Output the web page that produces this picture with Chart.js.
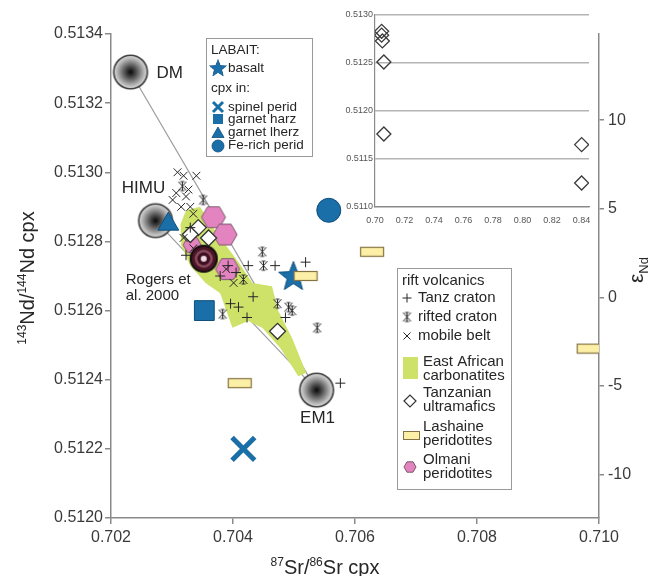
<!DOCTYPE html>
<html>
<head>
<meta charset="utf-8">
<script src="https://cdn.jsdelivr.net/npm/chart.js@4.4.1/dist/chart.umd.min.js"></script>
<style>
  html, body { margin: 0; padding: 0; background: #fff; }
  #wrap { position: relative; width: 652px; height: 576px; }
  #main { position: absolute; left: 0; top: 0; }
  #inset { position: absolute; left: 330px; top: 0; }
</style>
</head>
<body>
<div id="wrap">
  <canvas id="main" width="652" height="576"></canvas>
  <canvas id="inset" width="270" height="225"></canvas>
</div>
<script>
// ---- data -------------------------------------------------------------
const CHUR_ND = 0.512638;

// mantle end-members
const endMembers   = ['DM', 'HIMU', 'EM1'];
const endMemberSr  = [0.70232, 0.70273, 0.70537];
const endMemberNd  = [0.51329, 0.51286, 0.51237];

// East African carbonatite field outline
const carbonatiteSr = [0.70323, 0.70346, 0.70371, 0.70409, 0.70432, 0.70464, 0.70474, 0.70497, 0.70520, 0.70507,
                       0.70478, 0.70448, 0.70425, 0.70399, 0.70389, 0.70379, 0.70355, 0.70330, 0.70315, 0.70314];
const carbonatiteNd = [0.51289, 0.51290, 0.51283, 0.51274, 0.51268, 0.51267, 0.51260, 0.51252, 0.51242, 0.51241,
                       0.51249, 0.51255, 0.51257, 0.51255, 0.51260, 0.51265, 0.51268, 0.51273, 0.51279, 0.51285];

// rift volcanics
const tanzCratonSr   = [0.70330, 0.70323, 0.70425, 0.70469, 0.70519, 0.70379, 0.70433, 0.70396, 0.70409, 0.70423, 0.70486, 0.70576, 0.70392, 0.70405];
const tanzCratonNd   = [0.51284, 0.51276, 0.51273, 0.51273, 0.51274, 0.51270, 0.51264, 0.51262, 0.51261, 0.51258, 0.51258, 0.51239, 0.51273, 0.51271];
const riftedCratonSr = [0.70351, 0.70317, 0.70448, 0.70450, 0.70417, 0.70383, 0.70473, 0.70491, 0.70497, 0.70538];
const riftedCratonNd = [0.51292, 0.51296, 0.51277, 0.51273, 0.51269, 0.51259, 0.51262, 0.51261, 0.51260, 0.51255];
const mobileBeltSr   = [0.70309, 0.70319, 0.70340, 0.70327, 0.70307, 0.70301, 0.70323, 0.70330, 0.70315, 0.70335, 0.70319, 0.70335, 0.70389, 0.70401];
const mobileBeltNd   = [0.51300, 0.51299, 0.51299, 0.51295, 0.51294, 0.51292, 0.51293, 0.51290, 0.51290, 0.51288, 0.51281, 0.51278, 0.51272, 0.51268];

// xenolith suites
const olmaniSr        = [0.70368, 0.70387, 0.70391, 0.70333];
const olmaniNd        = [0.51287, 0.51282, 0.51272, 0.51279];
const ultramaficSr    = [0.70343, 0.70360, 0.70330, 0.70473];
const ultramaficNd    = [0.51284, 0.51281, 0.51282, 0.51254];
const lashaineSr      = [0.70519, 0.70628, 0.70411, 0.70983];
const lashaineNd      = [0.51270, 0.51277, 0.51239, 0.51249];
const rogersSr        = [0.70352];
const rogersNd        = [0.51275];

// Labait samples
const basaltSr      = [0.70499]; const basaltNd      = [0.51270];
const spinelSr      = [0.70417]; const spinelNd      = [0.51220];
const garnetHarzSr  = [0.70353]; const garnetHarzNd  = [0.51260];
const garnetLherzSr = [0.70294]; const garnetLherzNd = [0.51285];
const feRichSr      = [0.70557]; const feRichNd      = [0.51289];

// inset: full Sr range of Tanzanian ultramafics
const insetSr = [0.7045, 0.7045, 0.7050, 0.7060, 0.7060, 0.8400, 0.8400];
const insetNd = [0.51283, 0.51279, 0.51273, 0.51251, 0.51176, 0.51165, 0.51125];

// axis ranges and ticks
const srRange = [0.702, 0.710];   const srStep = 0.002;
const ndRange = [0.5120, 0.5134]; const ndStep = 0.0002;
const epsStep = 5;
const insetSrRange = [0.70, 0.845]; const insetSrStep = 0.02;
const insetNdRange = [0.5110, 0.5130]; const insetNdStep = 0.0005;

// ---- styling helpers --------------------------------------------------
const FONT = '"Liberation Sans", Arial, sans-serif';
const INK = '#262626';
const AXIS = '#8a8a8a';
const BLUE = '#1b6fa8', BLUE_EDGE = '#0e4d7b';
const GREEN = 'rgb(206,226,106)';
const PINK = '#e384c0';
const toEps = nd => (nd / CHUR_ND - 1) * 1e4;
const pts = (xs, ys) => xs.map((x, i) => ({ x, y: ys[i] }));

Chart.defaults.font.family = FONT;

function sprite(w, h, paint) {
  const c = document.createElement('canvas');
  c.width = w; c.height = h;
  paint(c.getContext('2d'), w / 2, h / 2);
  return c;
}
function starPath(g, cx, cy, ro, ri) {
  g.beginPath();
  for (let i = 0; i < 10; i++) {
    const r = i % 2 ? ri : ro, a = -Math.PI / 2 + i * Math.PI / 5;
    g.lineTo(cx + r * Math.cos(a), cy + r * Math.sin(a));
  }
  g.closePath();
}
function hexPath(g, cx, cy, r) {
  g.beginPath();
  for (let i = 0; i < 6; i++) {
    const a = i * Math.PI / 3;
    g.lineTo(cx + r * Math.cos(a), cy + r * Math.sin(a));
  }
  g.closePath();
}

const sphereImg = sprite(38, 38, (g, cx, cy) => {
  const grad = g.createRadialGradient(cx, cy, 0, cx, cy, 17);
  grad.addColorStop(0, '#080808');
  grad.addColorStop(0.3, '#474747');
  grad.addColorStop(0.7, '#a3a3a3');
  grad.addColorStop(1, '#e4e4e4');
  g.beginPath(); g.arc(cx, cy, 16.8, 0, Math.PI * 2);
  g.fillStyle = grad; g.fill();
  g.lineWidth = 1.6; g.strokeStyle = '#3a3a3a'; g.stroke();
});
const starImg = sprite(34, 34, (g, cx, cy) => {
  starPath(g, cx, cy + 1, 15.5, 6.6);
  g.fillStyle = BLUE; g.fill();
  g.lineWidth = 1; g.strokeStyle = BLUE_EDGE; g.stroke();
});
const hexImg = sprite(28, 28, (g, cx, cy) => {
  hexPath(g, cx, cy, 12);
  g.fillStyle = PINK; g.fill();
  g.lineWidth = 1; g.strokeStyle = '#7a5a6c'; g.stroke();
});
const hexSmallImg = sprite(22, 22, (g, cx, cy) => {
  hexPath(g, cx, cy, 9);
  g.fillStyle = PINK; g.fill();
  g.lineWidth = 1; g.strokeStyle = '#7a5a6c'; g.stroke();
});
const rogersImg = sprite(30, 30, (g, cx, cy) => {
  const disc = (r, c) => { g.beginPath(); g.arc(cx, cy, r, 0, Math.PI * 2); g.fillStyle = c; g.fill(); };
  disc(13.5, '#1c0a10'); disc(12, '#4a1526'); disc(9, '#8c4c60'); disc(6.5, '#3e1020'); disc(3, '#f3dbe6');
  g.beginPath(); g.arc(cx, cy, 13.5, 0, Math.PI * 2);
  g.lineWidth = 1.2; g.strokeStyle = '#111'; g.stroke();
});
const lashImg = sprite(26, 12, (g) => {
  g.fillStyle = '#fcefa6'; g.fillRect(1.5, 1.5, 23, 9);
  g.lineWidth = 1.2; g.strokeStyle = '#857345'; g.strokeRect(1.5, 1.5, 23, 9);
});
// rifted-craton glyph: an x with a centre stroke and short serifs
const riftImg = sprite(13, 13, (g, cx, cy) => {
  g.strokeStyle = INK; g.lineWidth = 1;
  g.beginPath();
  g.moveTo(cx - 4, cy - 4.5); g.lineTo(cx + 4, cy + 4.5);
  g.moveTo(cx + 4, cy - 4.5); g.lineTo(cx - 4, cy + 4.5);
  g.moveTo(cx, cy - 4.5); g.lineTo(cx, cy + 4.5);
  g.moveTo(cx - 2, cy - 4.5); g.lineTo(cx + 2, cy - 4.5);
  g.moveTo(cx - 2, cy + 4.5); g.lineTo(cx + 2, cy + 4.5);
  g.stroke();
});

// text made of normal / superscript / subscript runs, centred on (cx, cy)
function drawRuns(ctx, runs, cx, cy, angle, size, small) {
  ctx.save();
  ctx.translate(cx, cy); ctx.rotate(angle);
  ctx.textAlign = 'left'; ctx.textBaseline = 'alphabetic'; ctx.fillStyle = INK;
  let total = 0;
  runs.forEach(r => { ctx.font = `${r.s ? small : size}px ${FONT}`; r.w = ctx.measureText(r.t).width; total += r.w; });
  let xx = -total / 2;
  const base = size * 0.36;
  runs.forEach(r => {
    ctx.font = `${r.s ? small : size}px ${FONT}`;
    const dy = r.s === 'sup' ? -size * 0.4 : r.s === 'sub' ? size * 0.25 : 0;
    ctx.fillText(r.t, xx, base + dy);
    xx += r.w;
  });
  ctx.restore();
}

// ---- annotations, legends and titles ----------------------------------
const overlay = {
  id: 'overlay',
  afterDraw(chart) {
    const { ctx, scales: { x, y } } = chart;
    const H = Chart.helpers;
    ctx.save();
    ctx.fillStyle = INK; ctx.textBaseline = 'middle';

    // end-member names
    ctx.font = `17px ${FONT}`;
    const ex = i => x.getPixelForValue(endMemberSr[i]);
    const ey = i => y.getPixelForValue(endMemberNd[i]);
    ctx.textAlign = 'left';   ctx.fillText(endMembers[0], ex(0) + 26, ey(0) + 1);
    ctx.textAlign = 'center'; ctx.fillText(endMembers[1], ex(1) - 12, ey(1) - 32);
    ctx.fillText(endMembers[2], ex(2) + 1, ey(2) + 28);

    // reference label
    ctx.font = `15px ${FONT}`; ctx.textAlign = 'left';
    const rx = x.getPixelForValue(rogersSr[0]), ry = y.getPixelForValue(rogersNd[0]);
    ctx.fillText('Rogers et', rx - 78, ry + 21);
    ctx.fillText('al. 2000', rx - 78, ry + 37);

    // Labait legend
    ctx.fillStyle = '#fff'; ctx.fillRect(206, 38, 106, 118);
    ctx.strokeStyle = '#9a9a9a'; ctx.lineWidth = 1; ctx.strokeRect(206.5, 38.5, 106, 118);
    ctx.fillStyle = INK; ctx.font = `13.5px ${FONT}`;
    ctx.fillText('LABAIT:', 211, 50);
    ctx.drawImage(starImg, 208, 58, 20, 20);
    ctx.fillText('basalt', 228, 68);
    ctx.fillText('cpx in:', 211, 88);
    ctx.strokeStyle = BLUE; ctx.lineWidth = 3;
    ctx.beginPath(); ctx.moveTo(213, 102); ctx.lineTo(223, 112); ctx.moveTo(223, 102); ctx.lineTo(213, 112); ctx.stroke();
    ctx.fillStyle = INK; ctx.fillText('spinel perid', 228, 107);
    ctx.fillStyle = BLUE; ctx.fillRect(213, 114, 10, 10);
    ctx.fillStyle = INK; ctx.fillText('garnet harz', 228, 119);
    ctx.fillStyle = BLUE; ctx.strokeStyle = BLUE_EDGE; ctx.lineWidth = 0.8;
    H.drawPoint(ctx, { pointStyle: 'triangle', radius: 7, rotation: 0, borderWidth: 0.8 }, 218, 134);
    ctx.fillStyle = INK; ctx.fillText('garnet lherz', 228, 132);
    ctx.fillStyle = BLUE;
    H.drawPoint(ctx, { pointStyle: 'circle', radius: 6, rotation: 0, borderWidth: 0.8 }, 218, 146);
    ctx.fillStyle = INK; ctx.fillText('Fe-rich perid', 228, 145);

    // rift volcanics / xenolith legend
    ctx.fillStyle = '#fff'; ctx.fillRect(397, 268, 114, 221);
    ctx.strokeStyle = '#9a9a9a'; ctx.lineWidth = 1; ctx.strokeRect(397.5, 268.5, 114, 221);
    ctx.fillStyle = INK; ctx.font = `15px ${FONT}`;
    ctx.fillText('rift volcanics', 402, 281);
    ctx.strokeStyle = INK; ctx.lineWidth = 1;
    H.drawPoint(ctx, { pointStyle: 'cross', radius: 4.5, rotation: 0, borderWidth: 1 }, 407, 298);
    ctx.fillText('Tanz craton', 418, 298);
    ctx.drawImage(riftImg, 400.5, 310.5);
    ctx.fillText('rifted craton', 418, 317);
    H.drawPoint(ctx, { pointStyle: 'crossRot', radius: 5, rotation: 0, borderWidth: 1 }, 407, 336);
    ctx.fillText('mobile belt', 418, 336);
    ctx.fillStyle = GREEN; ctx.fillRect(403, 357, 15, 22);
    ctx.fillStyle = INK;
    ctx.fillText('East African', 423, 362);
    ctx.fillText('carbonatites', 423, 376);
    ctx.fillStyle = '#fff'; ctx.strokeStyle = '#333'; ctx.lineWidth = 1.2;
    H.drawPoint(ctx, { pointStyle: 'rectRot', radius: 6, rotation: 0, borderWidth: 1.2 }, 410, 401);
    ctx.fillStyle = INK;
    ctx.fillText('Tanzanian', 423, 393);
    ctx.fillText('ultramafics', 423, 407);
    ctx.fillStyle = '#fcefa6'; ctx.fillRect(403, 431, 16, 8);
    ctx.strokeStyle = '#857345'; ctx.lineWidth = 1; ctx.strokeRect(403.5, 431.5, 16, 8);
    ctx.fillStyle = INK;
    ctx.fillText('Lashaine', 423, 427);
    ctx.fillText('peridotites', 423, 441);
    hexPath(ctx, 410, 467, 6); ctx.fillStyle = PINK; ctx.fill();
    ctx.strokeStyle = '#7a5a6c'; ctx.lineWidth = 1; ctx.stroke();
    ctx.fillStyle = INK;
    ctx.fillText('Olmani', 423, 460);
    ctx.fillText('peridotites', 423, 474);

    // axis titles
    drawRuns(ctx, [{ t: '87', s: 'sup' }, { t: 'Sr/' }, { t: '86', s: 'sup' }, { t: 'Sr cpx' }], 325, 567, 0, 20, 12);
    drawRuns(ctx, [{ t: '143', s: 'sup' }, { t: 'Nd/' }, { t: '144', s: 'sup' }, { t: 'Nd cpx' }], 27, 278, -Math.PI / 2, 20, 12);
    drawRuns(ctx, [{ t: 'ε' }, { t: 'Nd', s: 'sub' }], 635, 270, -Math.PI / 2, 21, 13);
    ctx.restore();
  }
};

// ---- main chart ---------------------------------------------------------
const pointSet = (data, style, extra) => Object.assign({ data, showLine: false, pointStyle: style, pointHitRadius: 0 }, extra);

new Chart(document.getElementById('main'), {
  type: 'scatter',
  data: {
    datasets: [
      // mixing lines towards EM1
      { data: [{ x: endMemberSr[0], y: endMemberNd[0] }, { x: endMemberSr[2], y: endMemberNd[2] }],
        showLine: true, pointRadius: 0, borderColor: '#9c9c9c', borderWidth: 1.2, order: 20 },
      { data: [{ x: endMemberSr[1], y: endMemberNd[1] }, { x: endMemberSr[2], y: endMemberNd[2] }],
        showLine: true, pointRadius: 0, borderColor: '#9c9c9c', borderWidth: 1.2, order: 20 },
      // carbonatite field
      { data: pts(carbonatiteSr.concat(carbonatiteSr[0]), carbonatiteNd.concat(carbonatiteNd[0])),
        showLine: true, fill: 'shape', backgroundColor: GREEN, borderColor: 'rgba(0,0,0,0)', borderWidth: 0,
        pointRadius: 0, tension: 0, order: 18 },
      pointSet(pts(endMemberSr, endMemberNd), sphereImg, { order: 16 }),
      pointSet(pts(olmaniSr, olmaniNd), [hexImg, hexImg, hexImg, hexSmallImg], { order: 14 }),
      pointSet(pts(ultramaficSr, ultramaficNd), 'rectRot',
        { pointRadius: 8, pointBackgroundColor: '#fff', pointBorderColor: '#333', pointBorderWidth: 1.3, order: 12 }),
      pointSet(pts(tanzCratonSr, tanzCratonNd), 'cross',
        { pointRadius: 5, pointBorderColor: INK, pointBorderWidth: 1, order: 10 }),
      pointSet(pts(riftedCratonSr, riftedCratonNd), riftImg, { order: 10 }),
      pointSet(pts(mobileBeltSr, mobileBeltNd), 'crossRot',
        { pointRadius: 5.5, pointBorderColor: INK, pointBorderWidth: 1, order: 10 }),
      pointSet(pts(rogersSr, rogersNd), rogersImg, { order: 8 }),
      pointSet(pts(basaltSr, basaltNd), starImg, { order: 6 }),
      pointSet(pts(spinelSr, spinelNd), 'crossRot',
        { pointRadius: 16, pointBorderColor: BLUE, pointBorderWidth: 5, order: 6 }),
      pointSet(pts(garnetHarzSr, garnetHarzNd), 'rect',
        { pointRadius: 14, pointBackgroundColor: BLUE, pointBorderColor: BLUE_EDGE, pointBorderWidth: 1, order: 6 }),
      pointSet(pts(garnetLherzSr, garnetLherzNd), 'triangle',
        { pointRadius: 12, pointBackgroundColor: BLUE, pointBorderColor: BLUE_EDGE, pointBorderWidth: 1, order: 6 }),
      pointSet(pts(feRichSr, feRichNd), 'circle',
        { pointRadius: 12, pointBackgroundColor: BLUE, pointBorderColor: BLUE_EDGE, pointBorderWidth: 1, order: 6 }),
      pointSet(pts(lashaineSr, lashaineNd), lashImg, { order: 4 })
    ]
  },
  options: {
    responsive: false,
    animation: false,
    events: [],
    layout: { padding: { top: 34, left: 0, right: 0, bottom: 0 } },
    plugins: { legend: { display: false }, tooltip: { enabled: false } },
    scales: {
      x: {
        type: 'linear', min: srRange[0], max: srRange[1],
        afterFit: s => { s.height = 58; },
        ticks: { stepSize: srStep, includeBounds: false, callback: v => v.toFixed(3),
                 font: { size: 16 }, color: '#3a3a3a', padding: 4, maxRotation: 0 },
        grid: { display: true, drawOnChartArea: false, drawTicks: true, tickLength: 6, color: AXIS, lineWidth: 1.5 },
        border: { display: true, color: AXIS, width: 1.5 }
      },
      y: {
        type: 'linear', position: 'left', min: ndRange[0], max: ndRange[1],
        afterFit: s => { s.width = 111; },
        ticks: { stepSize: ndStep, includeBounds: false, callback: v => v.toFixed(4),
                 font: { size: 16 }, color: '#3a3a3a', padding: 2 },
        grid: { display: true, drawOnChartArea: false, drawTicks: true, tickLength: 6, color: AXIS, lineWidth: 1.5 },
        border: { display: true, color: AXIS, width: 1.5 }
      },
      eps: {
        type: 'linear', position: 'right', min: toEps(ndRange[0]), max: toEps(ndRange[1]),
        afterFit: s => { s.width = 53; },
        ticks: { stepSize: epsStep, includeBounds: false, callback: v => String(Math.round(v)),
                 font: { size: 16 }, color: '#3a3a3a', padding: 4 },
        grid: { display: true, drawOnChartArea: false, drawTicks: true, tickLength: 5, color: AXIS, lineWidth: 1.5 },
        border: { display: true, color: AXIS, width: 1.5 }
      }
    }
  },
  plugins: [overlay]
});

// ---- inset -------------------------------------------------------------
new Chart(document.getElementById('inset'), {
  type: 'scatter',
  data: {
    datasets: [{
      data: pts(insetSr, insetNd), pointStyle: 'rectRot', pointRadius: 7,
      pointBackgroundColor: 'rgba(255,255,255,0)', pointBorderColor: '#3a3a3a', pointBorderWidth: 1.3
    }]
  },
  options: {
    responsive: false,
    animation: false,
    events: [],
    layout: { padding: { top: 15, left: 0, right: 11, bottom: 0 } },
    plugins: { legend: { display: false }, tooltip: { enabled: false } },
    scales: {
      x: {
        type: 'linear', min: insetSrRange[0], max: insetSrRange[1],
        afterFit: s => { s.height = 18; },
        ticks: { stepSize: insetSrStep, includeBounds: false, callback: v => v.toFixed(2),
                 font: { size: 9 }, color: '#555', padding: 0, maxRotation: 0, autoSkip: false },
        grid: { display: false },
        border: { display: true, color: AXIS, width: 1.2 }
      },
      y: {
        type: 'linear', min: insetNdRange[0], max: insetNdRange[1],
        afterFit: s => { s.width = 45; },
        ticks: { stepSize: insetNdStep, includeBounds: false, callback: v => v.toFixed(4),
                 font: { size: 9 }, color: '#555', padding: 2 },
        grid: { color: '#b4b4b4', lineWidth: 1.5, drawTicks: false },
        border: { display: true, color: AXIS, width: 1.2 }
      }
    }
  }
});
</script>
</body>
</html>
